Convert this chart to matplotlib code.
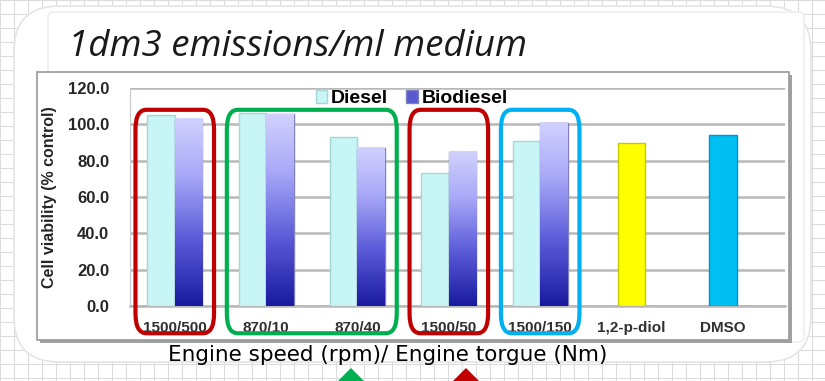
import numpy as np
import matplotlib.pyplot as plt
from matplotlib.patches import FancyBboxPatch, Rectangle, Polygon
from matplotlib.colors import LinearSegmentedColormap

# data
conditions = ['1500/500', '870/10', '870/40', '1500/50', '1500/150']
diesel = [105.0, 106.0, 93.0, 73.0, 91.0]
biodiesel = [103.0, 105.5, 87.0, 85.0, 101.0]
controls = ['1,2-p-diol', 'DMSO']
control_values = [90.0, 94.0]
control_colors = ['#ffff00', '#00bff3']

# highlight boxes: (first group, last group, colour)
boxes = [(0, 0, '#c00000'), (1, 2, '#00b050'), (3, 3, '#c00000'), (4, 4, '#00b0f0')]

labels = conditions + controls
x = np.arange(len(labels))
xc = np.arange(len(conditions))
bw = 0.30

fig = plt.figure(figsize=(8.25, 3.81), dpi=100)
W, H = 825, 381

# slide background: faint grid paper
bg = fig.add_axes([0, 0, 1, 1])
bg.set_xlim(0, W)
bg.set_ylim(H, 0)
bg.axis('off')
for gx in np.arange(0, W, 14):
    bg.axvline(gx, color='#dcdcdc', lw=0.8, zorder=0)
for gy in np.arange(0, H, 14):
    bg.axhline(gy, color='#dcdcdc', lw=0.8, zorder=0)
bg.add_patch(FancyBboxPatch((14, 6), W - 28, 356, boxstyle='round,pad=0,rounding_size=45',
                            fc='white', ec='#e4e4e4', lw=1.2, zorder=1))
bg.add_patch(FancyBboxPatch((48, 12), 756, 330, boxstyle='round,pad=0,rounding_size=6',
                            fc='white', ec='#ececec', lw=1.0, zorder=2))
# chart frame with shadow
bg.add_patch(Rectangle((40, 75), 752, 268, fc='#a0a0a0', ec='none', zorder=3))
bg.add_patch(Rectangle((37, 72), 752, 268, fc='white', ec='#9a9a9a', lw=1.2, zorder=4))

fig.text(68 / W, 1 - 47 / H, '1dm3 emissions/ml medium', fontsize=26.5, style='italic',
         family='Open Sans', color='#1a1a1a', va='center', ha='left')
fig.text(388 / W, 1 - 355 / H, 'Engine speed (rpm)/ Engine torgue (Nm)', fontsize=15.5,
         family='DejaVu Sans', color='black', va='center', ha='center')
bg.add_patch(Polygon([[338, 381], [351, 368], [364, 381]], closed=True, fc='#00b050', ec='none', zorder=5))
bg.add_patch(Polygon([[453, 381], [466, 368], [479, 381]], closed=True, fc='#c00000', ec='none', zorder=5))

ax = fig.add_axes([130 / W, 1 - 306 / H, 655 / W, 218 / H])
ax.set_zorder(6)
ax.patch.set_alpha(0)

ax.bar(xc - bw / 2, diesel, bw, color='#c8f6f6', edgecolor='#a6d6d6', lw=1, label='Diesel', zorder=3)
bio = ax.bar(xc + bw / 2, biodiesel, bw, color='#5a5ad0', edgecolor='#8080c0', lw=1,
             label='Biodiesel', zorder=3)
ax.bar(x[len(conditions):], control_values, bw, color=control_colors,
       edgecolor=['#c8c800', '#0095c8'], lw=1, zorder=3)

# vertical gradient on the biodiesel bars
cmap = LinearSegmentedColormap.from_list('bio', ['#1a1aa0', '#5a5ad8', '#a8a8f8', '#d8d8ff'])
grad = np.linspace(0, 1, 256).reshape(-1, 1)
for b in bio:
    ax.imshow(grad, extent=[b.get_x(), b.get_x() + b.get_width(), 0, b.get_height()],
              origin='lower', aspect='auto', cmap=cmap, vmin=0, vmax=1.05, zorder=3.5)

for i0, i1, c in boxes:
    pad = 0.13
    left = xc[i0] - bw - pad
    right = xc[i1] + bw + pad
    ax.add_patch(FancyBboxPatch((left, -15), right - left, 123,
                                boxstyle='round,pad=0,rounding_size=0.12',
                                mutation_aspect=90, fc='none', ec=c, lw=3,
                                clip_on=False, zorder=10))

ax.set_xlim(-0.49, 6.68)
ax.set_ylim(0, 120)
ax.set_yticks(np.arange(0, 121, 20))
ax.set_yticklabels([f'{v:.1f}' for v in np.arange(0, 121, 20)], fontsize=12,
                   fontweight='bold', family='Liberation Sans', color='#262626')
ax.set_xticks(x)
ax.set_xticklabels(labels, fontsize=11, fontweight='bold', family='Liberation Sans', color='#303030')
ax.tick_params(length=0, pad=11)
ax.tick_params(axis='y', pad=15)
ax.grid(axis='y', color='#b8b8b8', lw=1.8, zorder=0)
for s in ['top', 'right']:
    ax.spines[s].set_visible(False)
ax.spines['left'].set_color('#c8c8c8')
ax.spines['bottom'].set_color('#b8b8b8')
ax.spines['bottom'].set_linewidth(1.8)
ax.set_ylabel('Cell viability (% control)', fontsize=11.5, fontweight='bold',
              family='Liberation Sans', color='#262626', labelpad=8)

ax.legend(loc='center', bbox_to_anchor=(0.43, 0.95), ncol=2, frameon=False,
          handlelength=0.6, handleheight=0.6, handletextpad=0.2, columnspacing=0.9,
          prop={'family': 'Liberation Sans', 'weight': 'bold', 'size': 14})

fig.savefig('out.png', dpi=100)
